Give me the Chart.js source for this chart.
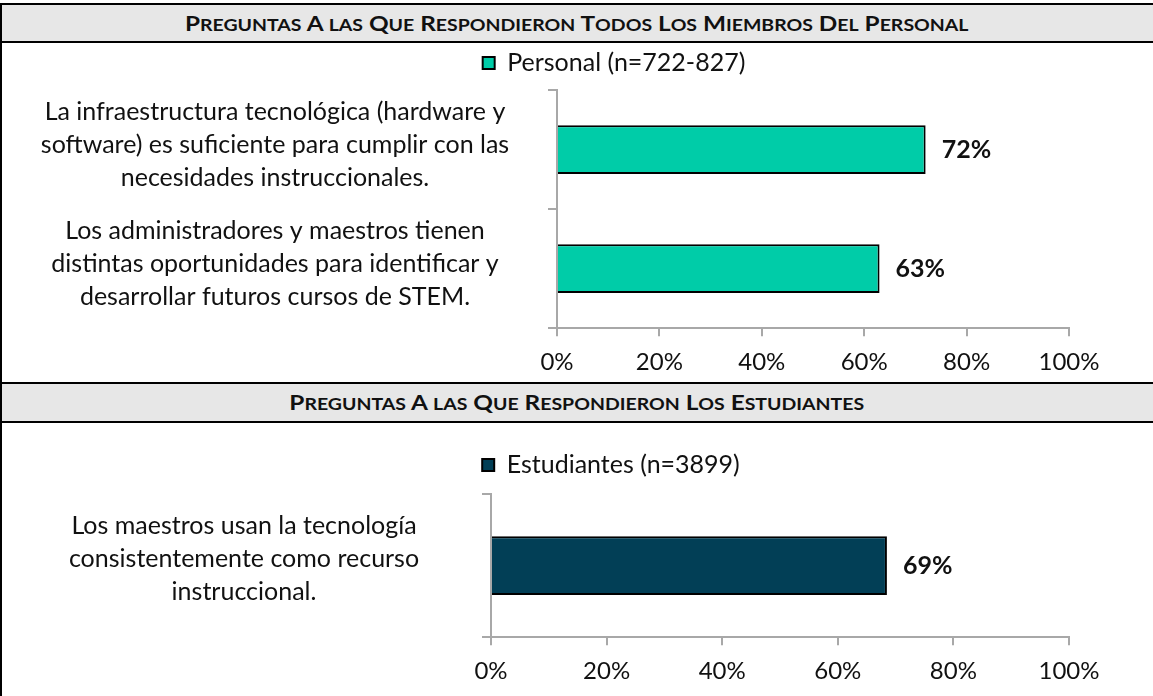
<!DOCTYPE html>
<html lang="es">
<head>
<meta charset="utf-8">
<title>Preguntas de tecnología</title>
<script src="https://cdn.jsdelivr.net/npm/chart.js@4.4.1/dist/chart.umd.min.js"></script>
<style>
  html, body { margin: 0; padding: 0; background: #fff; overflow: hidden; }
  body { width: 1153px; height: 696px; position: relative; font-family: Lato, sans-serif; }
  .band {
    position: absolute; left: 0; width: 1153px; box-sizing: border-box;
    background: #e7e7e7; border-top: 2px solid #000; border-bottom: 2px solid #000;
    text-align: center; font-weight: 700; font-size: 21px; color: #111;
  }
  .band span.t { display: inline-block; transform: scaleX(1.16); }
  .band small { font-size: 0.8em; }
  #band1 { top: 3px; height: 40px; line-height: 35px; }
  #band2 { top: 382px; height: 41px; line-height: 36px; }
  #leftRule { position: absolute; left: 0; top: 3px; width: 2px; height: 693px; background: #000; }
  canvas { position: absolute; left: 0; }
  #staffChart { top: 43px; }
  #studentChart { top: 423px; }
</style>
</head>
<body>
<div class="band" id="band1"><span class="t">P<small>REGUNTAS</small> A <small>LAS</small> Q<small>UE</small> R<small>ESPONDIERON</small> T<small>ODOS</small> L<small>OS</small> M<small>IEMBROS</small> D<small>EL</small> P<small>ERSONAL</small></span></div>
<div class="band" id="band2"><span class="t">P<small>REGUNTAS</small> A <small>LAS</small> Q<small>UE</small> R<small>ESPONDIERON</small> L<small>OS</small> E<small>STUDIANTES</small></span></div>
<canvas id="staffChart" width="1153" height="339"></canvas>
<canvas id="studentChart" width="1153" height="273"></canvas>
<div id="leftRule"></div>
<script>
// data
const staffLabel = 'Personal (n=722-827)';
const staffQuestions = [
  ['La infraestructura tecnológica (hardware y', 'software) es suficiente para cumplir con las', 'necesidades instruccionales.'],
  ['Los administradores y maestros tienen', 'distintas oportunidades para identificar y', 'desarrollar futuros cursos de STEM.']
];
const staffValues = [72, 63];

const studentLabel = 'Estudiantes (n=3899)';
const studentQuestions = [
  ['Los maestros usan la tecnología', 'consistentemente como recurso', 'instruccional.']
];
const studentValues = [68.5];

const percentTicks = [0, 20, 40, 60, 80, 100];

const FONT = 'Lato';
const LABEL_SIZE = 25;
const AXIS_GRAY = '#a8a8a8';
const TEXT = '#111';

// bold % label at the end of each bar
const valueLabels = {
  id: 'valueLabels',
  afterDatasetsDraw(chart) {
    const ctx = chart.ctx;
    ctx.save();
    ctx.font = `bold ${LABEL_SIZE}px ${FONT}`;
    ctx.fillStyle = TEXT;
    ctx.textBaseline = 'middle';
    chart.getDatasetMeta(0).data.forEach((bar, i) => {
      const v = chart.data.datasets[0].data[i];
      ctx.fillText(Math.round(v) + '%', bar.x + 16, bar.y);
    });
    ctx.restore();
  }
};

// shifts the legend box after layout (chart.js centres it on the whole canvas)
const legendNudge = {
  id: 'legendNudge',
  afterLayout(chart, args, opts) {
    const lg = chart.legend;
    if (!lg) return;
    lg.top += opts.dy || 0;
    lg.bottom += opts.dy || 0;
    lg.left += opts.dx || 0;
    lg.right += opts.dx || 0;
  }
};

// padding so the multi-line question text sits centred at centerX
function labelPadding(lines, axisX, tickLen, centerX) {
  const ctx = document.createElement('canvas').getContext('2d');
  ctx.font = `${LABEL_SIZE}px ${FONT}`;
  let widest = 0;
  lines.flat().forEach(t => { widest = Math.max(widest, ctx.measureText(t).width); });
  return axisX - tickLen - centerX - widest / 2;
}

function makeChart(id, questions, values, label, color, layout) {
  const ctx = document.getElementById(id).getContext('2d');
  return new Chart(ctx, {
    type: 'bar',
    data: {
      labels: questions,
      datasets: [{
        label: label,
        data: values,
        backgroundColor: color,
        borderColor: '#000',
        borderWidth: 2,
        barPercentage: 0.41,
        categoryPercentage: 1
      }]
    },
    options: {
      indexAxis: 'y',
      responsive: false,
      animation: false,
      layout: { padding: layout.padding },
      scales: {
        x: {
          min: 0,
          max: 100,
          afterBuildTicks: (scale) => { scale.ticks = percentTicks.map(v => ({ value: v })); },
          ticks: {
            callback: (v) => v + '%',
            color: TEXT,
            padding: 12,
            font: { family: FONT, size: 24 }
          },
          grid: { drawOnChartArea: false, tickLength: 8, color: AXIS_GRAY, lineWidth: 2 },
          border: { color: AXIS_GRAY, width: 2 }
        },
        y: {
          afterFit: (scale) => {
            scale.width = layout.axisX - layout.padding.left;
            // tall 3-line labels would otherwise push the plot area down
            scale.paddingTop = 0;
            scale.paddingBottom = 0;
          },
          ticks: {
            crossAlign: 'center',
            padding: labelPadding(questions, layout.axisX, 9, layout.labelCenter),
            labelOffset: layout.labelDy,
            color: TEXT,
            font: { family: FONT, size: LABEL_SIZE, lineHeight: 1.32 }
          },
          grid: { drawOnChartArea: false, tickLength: 9, color: AXIS_GRAY, lineWidth: 2 },
          border: { color: AXIS_GRAY, width: 2 }
        }
      },
      plugins: {
        legend: {
          labels: {
            boxWidth: 12,
            boxHeight: 12,
            padding: 12,
            color: TEXT,
            font: { family: FONT, size: LABEL_SIZE }
          }
        },
        legendNudge: { dx: layout.legendDx, dy: layout.legendDy },
        tooltip: { enabled: false }
      }
    },
    plugins: [valueLabels, legendNudge]
  });
}

makeChart('staffChart', staffQuestions, staffValues, staffLabel, '#00cca8', {
  padding: { left: 0, right: 84, top: 0, bottom: -7 },
  axisX: 557,
  labelCenter: 275,
  labelDy: -5,
  legendDx: 79.5,
  legendDy: -4.5
});

makeChart('studentChart', studentQuestions, studentValues, studentLabel, '#023f56', {
  padding: { left: 0, right: 84, top: 24, bottom: -2 },
  axisX: 491,
  labelCenter: 244,
  labelDy: -7,
  legendDx: 76.5,
  legendDy: -6.5
});
</script>
</body>
</html>
